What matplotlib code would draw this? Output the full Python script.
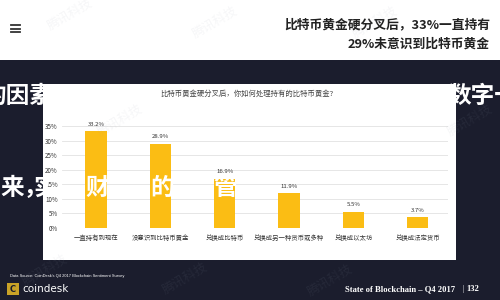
import matplotlib
matplotlib.use("Agg")
import matplotlib.pyplot as plt
import matplotlib.patches as patches
from matplotlib.lines import Line2D

plt.rcParams["font.family"] = ["Noto Sans CJK SC", "DejaVu Sans"]

# survey data
categories = ["一直持有到现在", "没意识到比特币黄金", "兑换成比特币",
              "兑换成另一种货币或多种", "兑换成以太坊", "兑换成法定货币"]
values = [33.2, 28.9, 16.9, 11.9, 5.5, 3.7]
yticks = [0, 5, 10, 15, 20, 25, 30, 35]

headline = ["比特币黄金硬分叉后，33%一直持有", "29%未意识到比特币黄金"]
chart_title = "比特币黄金硬分叉后，你如何处理持有的比特币黄金?"
source = "Data Source: CoinDesk's Q4 2017 Blockchain Sentiment Survey"
footer = "State of Blockchain – Q4 2017"
page = "132"

W, H = 500, 300
NAVY = "#1b1d2d"
GOLD = "#fbbd14"

fig = plt.figure(figsize=(5, 3), dpi=100, facecolor=NAVY)


def px(x, y):
    # pixel coords (from top-left) to figure fraction
    return x / W, 1 - y / H


# top white band
fig.patches.append(patches.Rectangle((0, 1 - 60 / H), 1, 60 / H, transform=fig.transFigure,
                                     facecolor="white", edgecolor="none", zorder=0.2))
for yy in (25, 28.5, 32):
    fig.add_artist(Line2D([11 / W, 20 / W], [1 - yy / H] * 2, color="#333333", lw=1.3, zorder=0.3))
for i, line in enumerate(headline):
    x, y = px(490, 25 + i * 19)
    fig.text(x, y, line, ha="right", va="center", fontsize=9.2, fontweight="bold", color="#222222")

# faint watermarks
for wx, wy in [(70, 14), (215, 22), (375, 22), (470, 120), (45, 270), (185, 278), (330, 280), (120, 120)]:
    x, y = px(wx, wy)
    fig.text(x, y, "腾讯科技", ha="center", va="center", fontsize=9, rotation=30,
             color="#9aa0b0", alpha=0.09, zorder=6)

# overlay calligraphy line behind the panel
x, y = px(-18, 96)
fig.text(x, y, "的因素", ha="left", va="center", fontsize=17, fontweight="bold", color="white", zorder=0.5)
x, y = px(447, 96)
fig.text(x, y, "数字一", ha="left", va="center", fontsize=17, fontweight="bold", color="white", zorder=0.5)

# white chart panel
fig.patches.append(patches.Rectangle((43 / W, 1 - 260 / H), (456 - 43) / W, (260 - 84) / H,
                                     transform=fig.transFigure, facecolor="white",
                                     edgecolor="none", zorder=1))
x, y = px(247, 94)
fig.text(x, y, chart_title, ha="center", va="center", fontsize=5.3, color="#444444", zorder=2)

ax = fig.add_axes([62 / W, 1 - 228 / H, (448 - 62) / W, (228 - 126) / H], zorder=2)
ax.set_facecolor("none")
xs = list(range(len(categories)))
ax.bar(xs, values, width=0.33, color=GOLD, zorder=3)
for xi, v in zip(xs, values):
    ax.text(xi, v + 1.6, f"{v}%", ha="center", va="bottom", fontsize=4.3, color="#333333")
ax.set_xlim(-0.53, 5.47)
ax.set_ylim(0, 35)
ax.set_yticks(yticks)
ax.set_yticklabels([f"{t}%" for t in yticks], fontsize=4.5, color="#333333")
ax.set_xticks(xs)
ax.set_xticklabels(categories, fontsize=4.6, color="#333333")
ax.tick_params(length=0, pad=3)
ax.tick_params(axis="x", pad=4)
ax.grid(axis="y", color="#e2e2e2", lw=0.6)
ax.set_axisbelow(True)
for s in ax.spines.values():
    s.set_visible(False)

# overlay calligraphy line over the panel
for ch, cx in [("来，", 0), ("实", 33), ("财", 85), ("的", 150), ("管", 213)]:
    x, y = px(cx, 188)
    fig.text(x, y, ch, ha="left", va="center", fontsize=17, fontweight="bold", color="white", zorder=5)

# footer
x, y = px(10, 276)
fig.text(x, y, source, ha="left", va="center", fontsize=2.9, color="white", family="Liberation Sans")
fig.patches.append(patches.Rectangle((7 / W, 1 - 295 / H), 12 / W, 12 / H, transform=fig.transFigure,
                                     facecolor="#c9a227", edgecolor="none", zorder=2))
x, y = px(13, 289)
fig.text(x, y, "C", ha="center", va="center", fontsize=6, fontweight="bold", color=NAVY, zorder=3,
         family="DejaVu Sans")
x, y = px(22, 289)
fig.text(x, y, "coindesk", ha="left", va="center", fontsize=7.5, color="white", family="DejaVu Sans")
x, y = px(455, 289)
fig.text(x, y, footer, ha="right", va="center", fontsize=6.2, fontweight="bold", color="white",
         family="Liberation Serif")
x, y = px(463, 289)
fig.text(x, y, "|", ha="center", va="center", fontsize=6.2, color="white", family="Liberation Serif")
x, y = px(479, 289)
fig.text(x, y, page, ha="right", va="center", fontsize=6.2, fontweight="bold", color="white",
         family="Liberation Serif")

fig.savefig("out.png", dpi=100, facecolor=NAVY)
